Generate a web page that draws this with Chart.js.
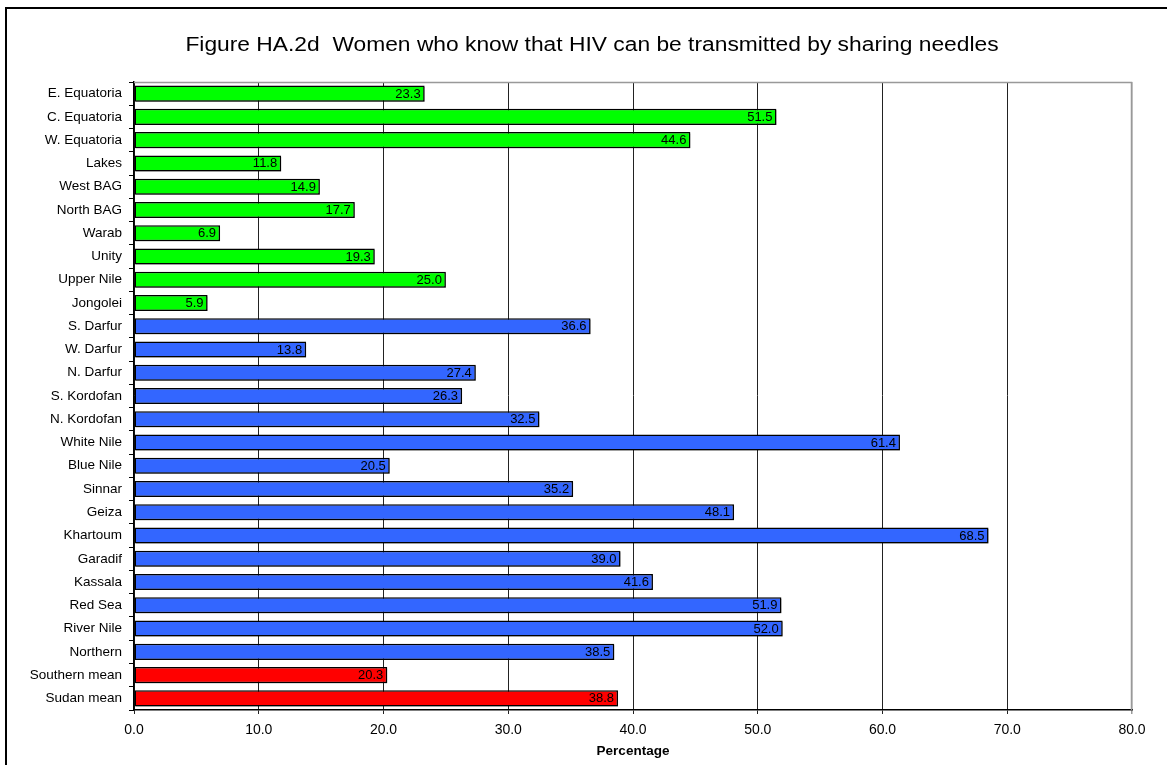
<!DOCTYPE html>
<html>
<head>
<meta charset="utf-8">
<title>Figure HA.2d</title>
<script src="https://cdn.jsdelivr.net/npm/chart.js@4/dist/chart.umd.min.js"></script>
<style>
  html, body { margin: 0; padding: 0; background: #fff; overflow: hidden; }
  #wrap { position: relative; width: 1167px; height: 765px; }
  #frame { position: absolute; left: 5px; top: 7px; width: 2000px; height: 2000px;
           border-left: 2px solid #000; border-top: 2px solid #000; pointer-events: none; }
  canvas { position: absolute; left: 0; top: 0; }
</style>
</head>
<body>
<div id="wrap">
  <canvas id="chart" width="1167" height="765"></canvas>
  <div id="frame"></div>
</div>
<script>
// Regions and their percentages (top to bottom)
const regions = [
  'E. Equatoria', 'C. Equatoria', 'W. Equatoria', 'Lakes', 'West BAG', 'North BAG',
  'Warab', 'Unity', 'Upper Nile', 'Jongolei',
  'S. Darfur', 'W. Darfur', 'N. Darfur', 'S. Kordofan', 'N. Kordofan', 'White Nile',
  'Blue Nile', 'Sinnar', 'Geiza', 'Khartoum', 'Garadif', 'Kassala', 'Red Sea',
  'River Nile', 'Northern',
  'Southern mean', 'Sudan mean'
];
const percentages = [
  23.3, 51.5, 44.6, 11.8, 14.9, 17.7, 6.9, 19.3, 25.0, 5.9,
  36.6, 13.8, 27.4, 26.3, 32.5, 61.4, 20.5, 35.2, 48.1, 68.5, 39.0, 41.6, 51.9, 52.0, 38.5,
  20.3, 38.8
];
const groups = [
  'south', 'south', 'south', 'south', 'south', 'south', 'south', 'south', 'south', 'south',
  'north', 'north', 'north', 'north', 'north', 'north', 'north', 'north', 'north', 'north',
  'north', 'north', 'north', 'north', 'north',
  'mean', 'mean'
];
const groupColors = { south: '#00FF00', north: '#3366FF', mean: '#FF0000' };
const xTicks = [0, 10, 20, 30, 40, 50, 60, 70, 80];

const titleText = 'Figure HA.2d  Women who know that HIV can be transmitted by sharing needles';
const FONT = '"Liberation Sans", Arial, sans-serif';

// Chart title, frame lines on the top and right of the plot
const decorations = {
  id: 'decorations',
  beforeDatasetsDraw(chart) {
    const { ctx, chartArea: a } = chart;
    ctx.save();
    ctx.strokeStyle = '#999';
    ctx.lineWidth = 1.5;
    ctx.beginPath();
    ctx.moveTo(a.left, a.top + 0.5);
    ctx.lineTo(a.right - 0.5, a.top + 0.5);
    ctx.lineTo(a.right - 0.5, a.bottom);
    ctx.stroke();
    ctx.restore();
  },
  afterDraw(chart) {
    const { ctx } = chart;
    ctx.save();
    ctx.font = '20px ' + FONT;
    ctx.fillStyle = '#000';
    ctx.textAlign = 'center';
    ctx.textBaseline = 'middle';
    // slightly wide lettering for the heading
    ctx.translate(592, 45);
    ctx.scale(1.14, 1);
    ctx.fillText(titleText, 0, 0);
    ctx.restore();
  }
};

// Shadow behind the bars
const barShadow = {
  id: 'barShadow',
  beforeDatasetDraw(chart) {
    const ctx = chart.ctx;
    ctx.save();
    ctx.shadowColor = 'rgba(0,0,0,0.35)';
    ctx.shadowOffsetX = 1.5;
    ctx.shadowOffsetY = 1.5;
    ctx.shadowBlur = 0;
  },
  afterDatasetDraw(chart) {
    chart.ctx.restore();
  }
};

// Value labels inside the end of each bar
const valueLabels = {
  id: 'valueLabels',
  afterDatasetsDraw(chart) {
    const { ctx } = chart;
    const meta = chart.getDatasetMeta(0);
    ctx.save();
    ctx.font = '13px ' + FONT;
    ctx.fillStyle = '#000';
    ctx.textAlign = 'right';
    ctx.textBaseline = 'middle';
    meta.data.forEach((bar, i) => {
      ctx.fillText(percentages[i].toFixed(1), bar.x - 4, bar.y + 0.5);
    });
    ctx.restore();
  }
};

new Chart(document.getElementById('chart'), {
  type: 'bar',
  data: {
    labels: regions,
    datasets: [{
      data: percentages,
      backgroundColor: groups.map(g => groupColors[g]),
      borderColor: '#000',
      borderWidth: 1.5,
      borderSkipped: false,
      barPercentage: 0.69,
      categoryPercentage: 1.0
    }]
  },
  options: {
    indexAxis: 'y',
    responsive: false,
    animation: false,
    devicePixelRatio: 1,
    layout: { padding: { top: 82, right: 35, bottom: 0, left: 0 } },
    plugins: {
      legend: { display: false },
      title: { display: false },
      tooltip: { enabled: false }
    },
    scales: {
      x: {
        type: 'linear',
        min: 0,
        max: 80,
        afterBuildTicks(scale) { scale.ticks = xTicks.map(v => ({ value: v })); },
        afterFit(scale) { scale.height = 765 - 82 - 628; },
        ticks: {
          color: '#000',
          font: { family: FONT, size: 14 },
          padding: 8,
          maxRotation: 0,
          callback: v => Number(v).toFixed(1)
        },
        grid: {
          drawOnChartArea: true,
          drawTicks: true,
          tickLength: 4,
          color: ctx => (ctx.tick && ctx.tick.value === 80) ? '#999' : '#222',
          lineWidth: ctx => (ctx.tick && ctx.tick.value === 80) ? 1.5 : 1
        },
        border: { display: true, color: '#000', width: 1.5 },
        title: {
          display: true,
          text: 'Percentage',
          color: '#000',
          font: { family: FONT, size: 13.5, weight: 'bold' },
          padding: { top: 0, bottom: 6 }
        }
      },
      y: {
        type: 'category',
        afterFit(scale) { scale.width = 134; },
        ticks: {
          color: '#000',
          font: { family: FONT, size: 13.5 },
          padding: 7,
          autoSkip: false
        },
        grid: {
          offset: true,
          drawOnChartArea: false,
          drawTicks: true,
          tickLength: 5,
          color: '#000'
        },
        border: { display: true, color: '#000', width: 1.5 }
      }
    }
  },
  plugins: [decorations, barShadow, valueLabels]
});
</script>
</body>
</html>
